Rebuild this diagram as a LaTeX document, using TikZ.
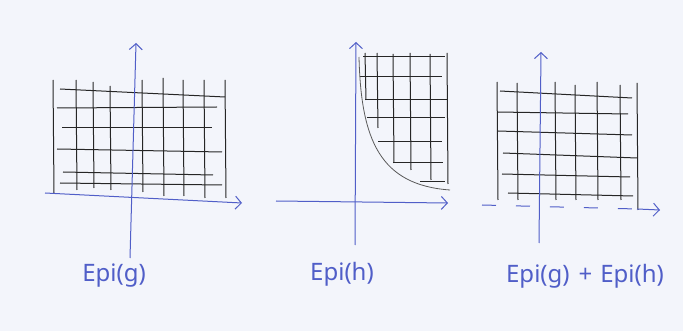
\documentclass[tikz,border=0pt]{standalone}
\usepackage{fontspec}
\setmainfont{Noto Sans}
\usetikzlibrary{arrows.meta}
\definecolor{penblue}{RGB}{80,94,200}
\definecolor{paper}{RGB}{243,245,251}

\begin{document}
\begin{tikzpicture}[
			x=1pt, y=-1pt,
			axis/.style={line width=1pt, penblue, -{Straight Barb[length=6pt,width=13pt]}},
			gridline/.style={line width=1pt, black!85},
			every node/.style={font=\fontsize{24}{28}\selectfont, text=penblue}
			]
			\fill[paper] (0,0) rectangle (683,331);
			\useasboundingbox (0,0) rectangle (683,331);
			
			% Epi(g)
			\foreach \x/\ya/\yb in {53/80/193, 76/80/190, 93/82/188, 110/86/190, 142/80/192, 163/78/196, 183/80/196, 204/80/198, 225/80/198}
				\draw[gridline] (\x,\ya) -- (\x+1,\yb);
			\foreach \xa/\ya/\xb/\yb in {60/89/225/97, 57/108/217/107, 62/128/212/128, 57/149/222/152, 63/172/213/175, 60/183/222/185}
				\draw[gridline] (\xa,\ya) -- (\xb,\yb);
			\draw[axis] (45,193) -- (242,203);
			\draw[axis] (130,258) -- (136,43);
			\node (lblg) at (114,276) {Epi(g)};
			
			% Epi(h)
			\foreach \x/\ya/\yb in {365/53/100, 377/53/128, 393/54/163, 410/53/170, 430/54/180, 447/53/184}
				\draw[gridline] (\x,\ya) -- (\x+1,\yb);
			\foreach \xa/\xb/\y in {363/445/57, 360/442/77, 365/447/100, 367/445/118, 378/442/142, 393/443/163, 420/445/182}
				\draw[gridline] (\xa,\y) -- (\xb,\y);
			\draw[line width=0.8pt, gray!70!black] (359,57) .. controls (361,140) and (380,185) .. (450,190);
			\draw[axis] (276,201) -- (448,203);
			\draw[axis] (355,245) -- (356,42);
			\node (lblh) at (342,274) {Epi(h)};
			
			% Epi(g) + Epi(h)
			\foreach \x/\ya/\yb in {497/82/200, 517/83/200, 555/82/200, 575/85/200, 597/82/200, 620/85/200, 637/83/210}
				\draw[gridline] (\x,\ya) -- (\x+1,\yb);
			\foreach \xa/\ya/\xb/\yb in {500/91/632/98, 497/112/628/114, 498/131/632/135, 503/153/637/158, 502/174/630/177, 508/193/633/196}
				\draw[gridline] (\xa,\ya) -- (\xb,\yb);
			\draw[line width=1pt, penblue, dash pattern=on 14pt off 20pt] (482,205) -- (637,209);
			\draw[axis] (637,209) -- (660,210);
			\draw[axis] (539,243) -- (541,52);
			\node (lblsum) at (585,276) {Epi(g)\hspace{9pt}+\hspace{8pt}Epi(h)};
		\end{tikzpicture}
\end{document}
